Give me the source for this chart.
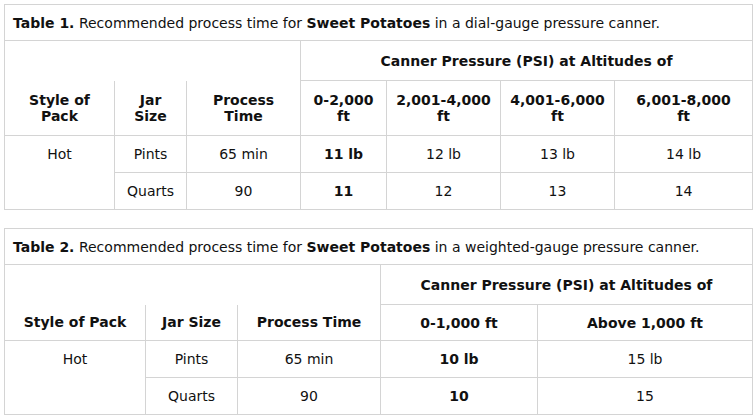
<!DOCTYPE html>
<html><head><meta charset="utf-8">
<script src="https://cdn.jsdelivr.net/npm/chart.js@4"></script>
<style>
body{margin:0;background:#fff;font-family:"DejaVu Sans",Verdana,sans-serif;font-size:14px;color:#111}
table{border-collapse:collapse;position:absolute;left:4px;width:748px;table-layout:fixed}
td{border:1px solid #d4d4d4;text-align:center;padding:0}
td.cap{text-align:left;padding-left:8px;height:35px}
.b{font-weight:bold}
</style></head><body>
<table id="t1" style="top:4px"></table>
<table id="t2" style="top:228px"></table>
<script>
// Tabela 1 - manometro (dial-gauge)
const caption1 = 'Recommended process time for ';
const caption1End = ' in a dial-gauge pressure canner.';
const header1 = ['Style of<br>Pack', 'Jar<br>Size', 'Process<br>Time', '0-2,000<br>ft', '2,001-4,000<br>ft', '4,001-6,000<br>ft', '6,001-8,000<br>ft'];
const widths1 = [110, 72, 114, 86, 114, 114, 138];
const rows1 = [
    ['Hot', 'Pints', '65 min', '11 lb', '12 lb', '13 lb', '14 lb'],
    ['', 'Quarts', '90', '11', '12', '13', '14']
];

// Tabela 2 - peso (weighted-gauge)
const caption2End = ' in a weighted-gauge pressure canner.';
const header2 = ['Style of Pack', 'Jar Size', 'Process Time', '0-1,000 ft', 'Above 1,000 ft'];
const widths2 = [141, 92, 143, 157, 215];
const rows2 = [
    ['Hot', 'Pints', '65 min', '10 lb', '15 lb'],
    ['', 'Quarts', '90', '10', '15']
];

function buildTable(id, num, capEnd, header, widths, rows, hHeights) {
    const t = document.getElementById(id);
    let html = '<colgroup>' + widths.map(w => `<col style="width:${w}px">`).join('') + '</colgroup>';
    html += `<tr><td class="cap" colspan="${widths.length}"><b>Table ${num}.</b> ${caption1}<b>Sweet Potatoes</b>${capEnd}</td></tr>`;
    html += `<tr style="height:${hHeights[0]}px"><td colspan="3" style="border-bottom:none"></td><td class="b" colspan="${widths.length - 3}">Canner Pressure (PSI) at Altitudes of</td></tr>`;
    html += `<tr style="height:${hHeights[1]}px">` + header.map((h, i) => `<td class="b"${i < 3 ? ' style="border-top:none"' : ''}>${h}</td>`).join('') + '</tr>';
    rows.forEach((r, ri) => {
        html += `<tr style="height:${hHeights[2]}px">` + r.map((c, i) => {
            let st = i === 0 ? (ri === 0 ? ' style="border-bottom:none"' : ' style="border-top:none"') : '';
            return `<td${i === 3 ? ' class="b"' : ''}${st}>${c}</td>`;
        }).join('') + '</tr>';
    });
    t.innerHTML = html;
}

buildTable('t1', 1, caption1End, header1, widths1, rows1, [40, 55, 37]);
buildTable('t2', 2, caption2End, header2, widths2, rows2, [40, 36, 37]);
</script>
</body></html>
